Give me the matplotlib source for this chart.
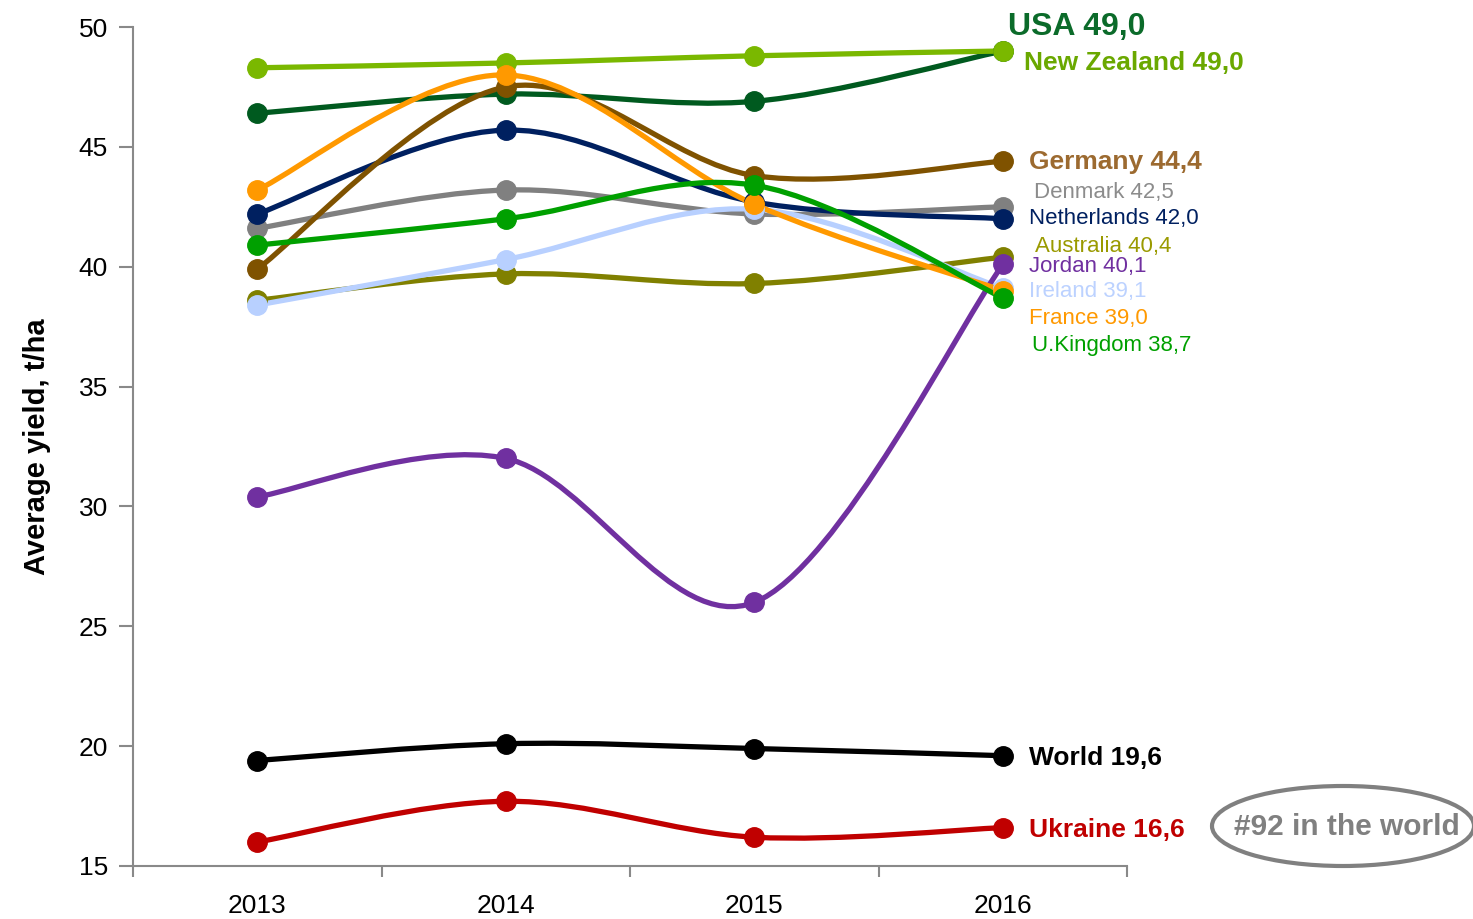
import matplotlib
matplotlib.use("Agg")
import matplotlib.pyplot as plt
from matplotlib.path import Path
from matplotlib.patches import PathPatch, Ellipse

plt.rcParams['font.family'] = ['Liberation Sans', 'DejaVu Sans']

# data
years = [2013, 2014, 2015, 2016]
usa = [46.4, 47.2, 46.9, 49.0]
new_zealand = [48.3, 48.5, 48.8, 49.0]
germany = [39.9, 47.5, 43.8, 44.4]
denmark = [41.6, 43.2, 42.2, 42.5]
netherlands = [42.2, 45.7, 42.7, 42.0]
australia = [38.6, 39.7, 39.3, 40.4]
jordan = [30.4, 32.0, 26.0, 40.1]
ireland = [38.4, 40.3, 42.4, 39.1]
france = [43.2, 48.0, 42.6, 39.0]
uk = [40.9, 42.0, 43.4, 38.7]
world = [19.4, 20.1, 19.9, 19.6]
ukraine = [16.0, 17.7, 16.2, 16.6]

# (name, values, line colour, label colour, bold, label size, label x, label y)
series = [
    ("USA", usa, "#005a1f", "#0b6b2a", True, 23, 2016.02, 50.0),
    ("New Zealand", new_zealand, "#7ab800", "#6aa800", True, 19, 2016.085, 48.5),
    ("Denmark", denmark, "#808080", "#8c8c8c", False, 16, 2016.125, 43.1),
    ("Australia", australia, "#808000", "#9a9a00", False, 16, 2016.13, 40.85),
    ("Ireland", ireland, "#b8d0ff", "#bcd2ff", False, 16, 2016.105, 38.98),
    ("Netherlands", netherlands, "#002060", "#002060", False, 16, 2016.105, 42.02),
    ("Germany", germany, "#7f5200", "#9c6a30", True, 19, 2016.105, 44.38),
    ("Jordan", jordan, "#7030a0", "#7030a0", False, 16, 2016.105, 40.02),
    ("France", france, "#ff9900", "#ff9900", False, 16, 2016.105, 37.86),
    ("U.Kingdom", uk, "#00a000", "#00a000", False, 16, 2016.115, 36.72),
    ("World", world, "#000000", "#000000", True, 19, 2016.105, 19.52),
    ("Ukraine", ukraine, "#c00000", "#c00000", True, 19, 2016.105, 16.52),
]


def smooth_path(xs, ys):
    # Excel-style smoothed line: cubic bezier through the points
    pts = list(zip(xs, ys))
    verts = [pts[0]]
    codes = [Path.MOVETO]
    n = len(pts)
    for i in range(n - 1):
        p0 = pts[i - 1] if i > 0 else pts[i]
        p1 = pts[i]
        p2 = pts[i + 1]
        p3 = pts[i + 2] if i + 2 < n else pts[i + 1]
        c1 = (p1[0] + (p2[0] - p0[0]) / 6, p1[1] + (p2[1] - p0[1]) / 6)
        c2 = (p2[0] - (p3[0] - p1[0]) / 6, p2[1] - (p3[1] - p1[1]) / 6)
        verts += [c1, c2, p2]
        codes += [Path.CURVE4] * 3
    return Path(verts, codes)


fig = plt.figure(figsize=(14.73, 9.19), dpi=100)
ax = fig.add_axes([0.0903, 0.0577, 0.675, 0.9129])

for name, vals, col, lcol, bold, fs, lx, ly in series:
    ax.add_patch(PathPatch(smooth_path(years, vals), facecolor="none",
                           edgecolor=col, lw=3.8, capstyle="round"))
    ax.plot(years, vals, "o", color=col, markersize=14, zorder=3)
    txt = name + " " + f"{vals[-1]:.1f}".replace(".", ",")
    ax.text(lx, ly, txt, color=lcol, fontsize=fs,
            fontweight="bold" if bold else "normal", va="center", ha="left",
            clip_on=False)

ax.set_xlim(2012.5, 2016.5)
ax.set_ylim(15, 50)
ax.set_yticks(range(15, 51, 5))
ax.set_xticks(years)
ax.set_xticks([2012.5, 2013.5, 2014.5, 2015.5, 2016.5], minor=True)
ax.tick_params(axis="x", which="major", length=0, labelsize=19, pad=20)
ax.tick_params(axis="x", which="minor", length=8, width=1.5, color="#898989")
ax.tick_params(axis="y", length=10, width=1.5, color="#898989", labelsize=19, pad=8)
for s in ["top", "right"]:
    ax.spines[s].set_visible(False)
for s in ["left", "bottom"]:
    ax.spines[s].set_color("#898989")
    ax.spines[s].set_linewidth(1.5)
ax.set_ylabel("Average yield, t/ha", fontsize=21, fontweight="bold", labelpad=20)

# rank callout
ell = Ellipse((1343 / 1473, 1 - 826 / 919), 262 / 1473, 80 / 919,
              transform=fig.transFigure, facecolor="none", edgecolor="#808080", lw=3)
fig.patches.append(ell)
fig.text(1347 / 1473, 1 - 827 / 919, "#92 in the world", color="#808080",
         fontsize=21.5, fontweight="bold", ha="center", va="center")

fig.savefig("out.png", dpi=100)
